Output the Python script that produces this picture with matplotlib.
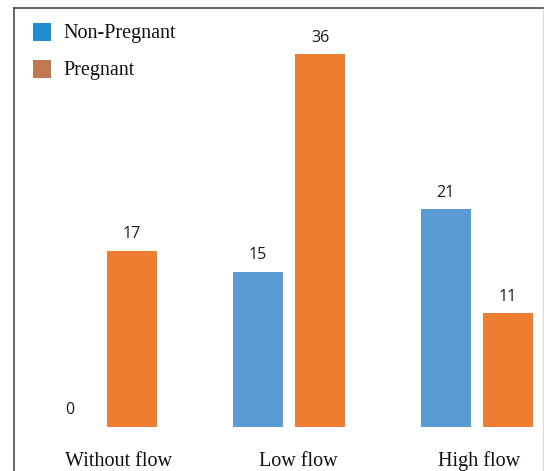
import matplotlib
matplotlib.use("Agg")
import matplotlib.pyplot as plt
import matplotlib.patches as mpatches
import numpy as np

categories = ["Without flow", "Low flow", "High flow"]
non_pregnant = [0, 15, 21]
pregnant = [17, 36, 11]
series_names = ["Non-Pregnant", "Pregnant"]

BLUE = "#5B9BD5"
ORANGE = "#ED7D31"
LEG_BLUE = "#1F8DD6"
LEG_BROWN = "#C0784F"
FRAME = "#3A3A3A"

W, H = 544, 471
fig = plt.figure(figsize=(W / 100, H / 100), dpi=100)

# frame: dark left/top lines, faint right edge, open bottom
frame = fig.add_axes([13.5 / W, -0.01, (543 - 13.5) / W, (H - 8) / H + 0.01])
frame.set_xticks([]); frame.set_yticks([])
frame.patch.set_visible(False)
frame.spines["bottom"].set_visible(False)
frame.spines["left"].set_color(FRAME)
frame.spines["top"].set_color(FRAME)
frame.spines["left"].set_linewidth(1.1)
frame.spines["top"].set_linewidth(1.1)
frame.spines["right"].set_color("#DADADA")
frame.spines["right"].set_linewidth(0.8)

# main axes covers the whole figure; limits map groups onto pixels
ax = fig.add_axes([0, 0, 1, 1])
ax.patch.set_visible(False)
ax.axis("off")
px_group, px0 = 188.0, 100.75
ax.set_xlim(-px0 / px_group, (W - px0) / px_group)
px_unit, base = 10.36, 44.0
ax.set_ylim(-base / px_unit, (H - base) / px_unit)

x = np.arange(len(categories))
bw, off = 0.266, 0.166
b1 = ax.bar(x - off, non_pregnant, bw, color=BLUE)
b2 = ax.bar(x + off, pregnant, bw, color=ORANGE)

for bars, vals in ((b1, non_pregnant), (b2, pregnant)):
    for r, v in zip(bars, vals):
        ax.annotate(str(v), (r.get_x() + r.get_width() / 2, v),
                    xytext=(0, 9), textcoords="offset points",
                    ha="center", va="baseline", fontsize=11.5,
                    family="Open Sans", color="#1a1a1a")

# category labels sit under each group (slightly right of centre, as drawn)
nudge = [0.097, 0.05, 0.01]
for xi, lab, dn in zip(x, categories, nudge):
    ax.text(xi + dn, 5 / H, lab, transform=ax.get_xaxis_transform(),
            ha="center", va="baseline", fontsize=14.5,
            family="Liberation Serif", color="#111111")

# legend, drawn by hand
for i, (name, col) in enumerate(zip(series_names, [LEG_BLUE, LEG_BROWN])):
    ytop = 23 + 37 * i
    fig.add_artist(mpatches.Rectangle((33 / W, 1 - (ytop + 18) / H), 18 / W, 18 / H,
                                      transform=fig.transFigure, facecolor=col,
                                      edgecolor="none"))
    fig.text(63 / W, 1 - (ytop + 15) / H, name, ha="left", va="baseline",
             fontsize=14.5, family="Liberation Serif", color="#111111")

fig.savefig("out.png", dpi=100)
